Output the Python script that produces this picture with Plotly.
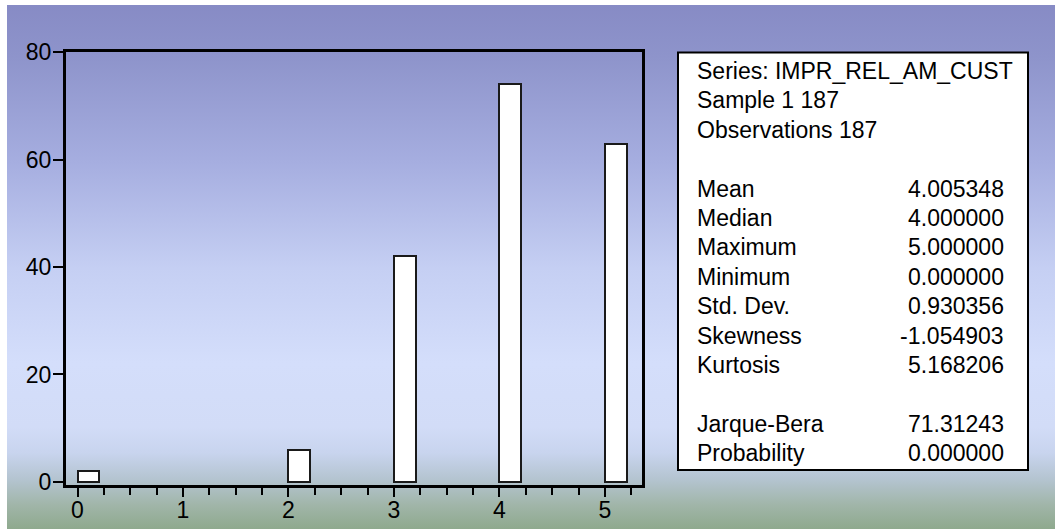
import base64
import plotly.graph_objects as go

# ---------------- data ----------------
bin_values = [0, 2, 3, 4, 5]
bin_counts = [2, 6, 42, 74, 63]

x_tick_vals = [0, 1, 2, 3, 4, 5]
y_tick_vals = [0, 20, 40, 60, 80]

header_lines = ["Series: IMPR_REL_AM_CUST", "Sample 1 187", "Observations 187"]
stat_names = ["Mean", "Median", "Maximum", "Minimum", "Std. Dev.", "Skewness", "Kurtosis"]
stat_values = ["4.005348", "4.000000", "5.000000", "0.000000", "0.930356", "-1.054903", "5.168206"]
test_names = ["Jarque-Bera", "Probability"]
test_values = ["71.31243", "0.000000"]

# ---------------- layout geometry ----------------
W, H = 1055, 529
ML, MR, MT, MB = 66, 413, 52, 44
PW = W - ML - MR
PH = H - MT - MB


def px(xpix):
    return (xpix - ML) / PW


def py(ypix):
    return 1 - (ypix - MT) / PH


FONT = "Liberation Sans, Arial, sans-serif"

fig = go.Figure()
fig.add_trace(go.Bar(
    x=bin_values, y=bin_counts, width=0.205, offset=0,
    marker=dict(color="white", line=dict(color="#1a1a1a", width=2)),
    showlegend=False, hoverinfo="x+y",
))

# background gradient (svg image)
stops = [
    (0.00, "#878bc5"), (0.10, "#8e94cb"), (0.30, "#a6aee0"), (0.50, "#c5cff3"),
    (0.68, "#d4defb"), (0.80, "#d2dcf7"), (0.85, "#c8d4ee"), (0.90, "#b4c4d0"),
    (0.95, "#a0b5a8"), (1.00, "#8ca88a"),
]
stop_xml = "".join(f'<stop offset="{o}" stop-color="{c}"/>' for o, c in stops)
svg = ('<svg xmlns="http://www.w3.org/2000/svg" width="100" height="100" viewBox="0 0 100 100" '
       'preserveAspectRatio="none"><defs><linearGradient id="g" x1="0" y1="0" x2="0" y2="1">'
       + stop_xml + '</linearGradient></defs><rect x="0" y="0" width="100" height="100" fill="url(#g)"/></svg>')
src = "data:image/svg+xml;base64," + base64.b64encode(svg.encode()).decode()
fig.add_layout_image(
    source=src, xref="paper", yref="paper",
    x=px(7), y=py(5), sizex=(W + 5 - 7) / PW, sizey=(H + 3 - 5) / PH,
    xanchor="left", yanchor="top", sizing="stretch", layer="below",
)

# stats box
fig.add_shape(type="rect", xref="paper", yref="paper",
              x0=px(678), x1=px(1028), y0=py(470), y1=py(52.5),
              fillcolor="white", line=dict(color="black", width=2), layer="above")

LINE0 = 71
STEP = 29.4
TX_L = 695
TX_R = 1006
FS = 23
TFS = 23

annotations = []


def add_line(idx, left, right=None):
    yy = py(LINE0 + STEP * idx)
    annotations.append(dict(xref="paper", yref="paper", x=px(TX_L), y=yy, text=left,
                            showarrow=False, xanchor="left", yanchor="middle",
                            font=dict(family=FONT, size=FS, color="black")))
    if right is not None:
        annotations.append(dict(xref="paper", yref="paper", x=px(TX_R), y=yy, text=right,
                                showarrow=False, xanchor="right", yanchor="middle",
                                font=dict(family=FONT, size=FS, color="black")))


for i, t in enumerate(header_lines):
    add_line(i, t)
for i, (n, v) in enumerate(zip(stat_names, stat_values)):
    add_line(4 + i, n, v)
for i, (n, v) in enumerate(zip(test_names, test_values)):
    add_line(12 + i, n, v)

fig.update_layout(
    width=W, height=H,
    margin=dict(l=ML, r=MR, t=MT, b=MB, pad=0, autoexpand=False),
    paper_bgcolor="white", plot_bgcolor="rgba(0,0,0,0)",
    font=dict(family=FONT, size=FS, color="black"),
    annotations=annotations,
    bargap=0,
    xaxis=dict(
        range=[-0.109, 5.352], tickvals=x_tick_vals, ticktext=[str(v) for v in x_tick_vals],
        showgrid=False, zeroline=False, showline=True, mirror=True,
        linecolor="black", linewidth=3, automargin=False,
        ticks="outside", ticklen=9, tickwidth=2, tickcolor="black",
        ticklabelstandoff=-7,
        minor=dict(dtick=0.25, tick0=0, ticks="outside", ticklen=7, tickwidth=2, tickcolor="black", showgrid=False),
        tickfont=dict(family=FONT, size=TFS, color="black"),
        fixedrange=True,
    ),
    yaxis=dict(
        range=[-0.58, 80.04], tickvals=y_tick_vals, ticktext=[str(v) for v in y_tick_vals],
        showgrid=False, zeroline=False, showline=True, mirror=True,
        linecolor="black", linewidth=3, automargin=False,
        ticks="outside", ticklen=10, tickwidth=2, tickcolor="black",
        ticklabelstandoff=-3,
        tickfont=dict(family=FONT, size=TFS, color="black"),
        fixedrange=True,
    ),
)

fig.write_html("out.html")
